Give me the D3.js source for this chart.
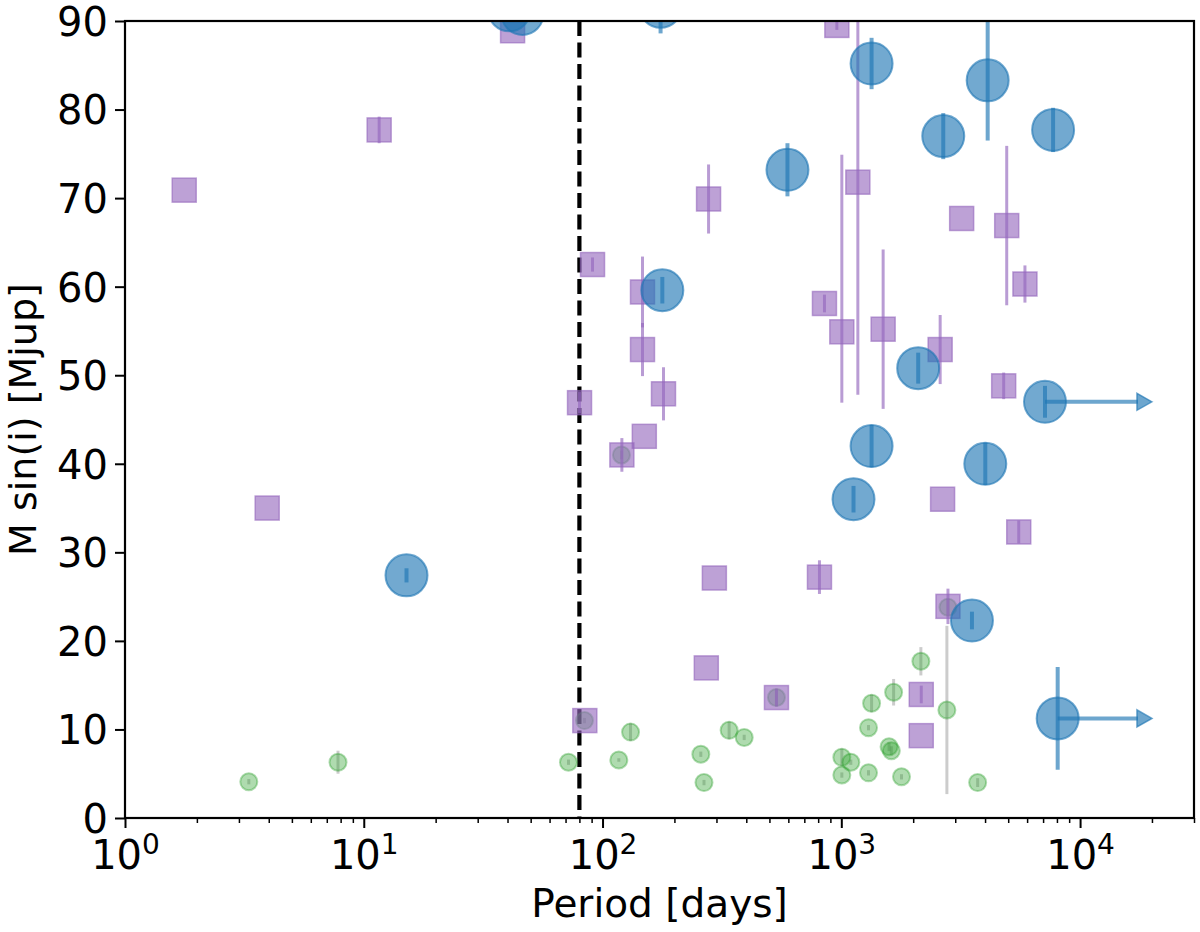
<!DOCTYPE html>
<html>
<head>
<meta charset="utf-8">
<script src="https://cdnjs.cloudflare.com/ajax/libs/d3/7.8.5/d3.min.js"></script>
<style>
  html, body { margin: 0; padding: 0; background: #fff; }
  svg { display: block; font-family: "DejaVu Sans", sans-serif; }
</style>
</head>
<body>
<svg id="chart" width="1200" height="932"></svg>
<script>
// ---------------- data ----------------
// Green (small circles): period [days], M sin i [Mjup], error
const greenPeriod = [3.3, 7.8, 72, 84, 117, 120, 131, 258, 266, 339, 392, 535, 1005, 1005, 1096, 1300, 1300, 1339, 1585, 1620, 1656, 1787, 2154, 2768, 2797, 3724];
const greenMass   = [4.1, 6.3, 6.3, 11.0, 6.55, 41.0, 9.7, 7.2, 4.0, 9.9, 9.1, 13.6, 6.85, 4.85, 6.3, 10.2, 5.1, 12.95, 8.05, 7.6, 14.2, 4.65, 17.7, 12.2, 23.8, 4.0];
const greenErr    = [0.3, 1.3, 0.3, 0.3, 0.2, 0.5, 1.0, 0.3, 0.3, 1.0, 0.3, 1.0, 1.0, 0.3, 0.3, 0.3, 0.3, 1.0, 0.5, 0.5, 1.5, 0.3, 1.6, 9.5, 1.0, 0.5];

// Purple (squares)
const purplePeriod = [1.77, 3.94, 11.6, 42, 80.1, 84.3, 90.8, 120.5, 147, 147, 149.6, 180, 272, 278, 294, 535, 810, 850, 958, 1005, 1173, 1497, 2162, 2162, 2594, 2656, 2797, 3192, 4787, 4929, 5535, 5876];
const purpleMass   = [70.9, 35.0, 77.7, 88.9, 46.9, 11.0, 62.5, 41.0, 59.4, 52.9, 43.1, 47.9, 16.95, 69.9, 27.1, 13.6, 27.2, 58.1, 89.5, 54.9, 71.8, 55.2, 13.95, 9.3, 52.9, 36.0, 23.9, 67.7, 48.8, 66.9, 32.3, 60.3];
const purpleErrLo  = [0, 0, 1.5, 0, 1.2, 0, 0.8, 1.9, 4.0, 3.0, 0, 3.0, 0, 3.9, 0, 1.0, 1.9, 1.0, 0.5, 8.0, 24.0, 9.0, 1.0, 0, 3.9, 0, 2.0, 0, 1.5, 9.0, 1.3, 2.1];
const purpleErrHi  = [0, 0, 1.5, 0, 1.2, 0, 0.8, 1.9, 4.0, 3.0, 0, 3.0, 0, 3.9, 0, 1.0, 1.9, 1.0, 0.5, 20.0, 24.0, 9.0, 1.0, 0, 3.9, 0, 2.0, 0, 1.5, 9.0, 1.3, 2.1];

// Blue (large circles)
const bluePeriod = [15.1, 40.7, 46.2, 175, 178, 595, 1125, 1339, 1339, 2099, 2673, 3525, 4009, 4102, 7130, 7709, 8057];
const blueMass   = [27.4, 91.2, 90.8, 91.6, 59.6, 73.2, 36.0, 85.2, 42.0, 50.8, 77.0, 22.3, 40.0, 83.3, 47.0, 77.7, 11.25];
const blueErr    = [0.8, 0, 0, 3.0, 1.5, 3.0, 1.5, 2.9, 2.4, 1.75, 2.6, 1.0, 2.4, 6.8, 1.8, 2.5, 5.8];
// lower limits on period: arrows from these points to a period of 2e4 days
const arrowFrom  = [7130, 8057];
const arrowMass  = [47.0, 11.25];
const arrowTo    = [20000, 20000];

const dividePeriod = 80;
const yTicks = [0, 10, 20, 30, 40, 50, 60, 70, 80, 90];
const xMajorExp = [0, 1, 2, 3, 4];
const xLabel = "Period [days]";
const yLabel = "M sin(i) [Mjup]";

// ---------------- layout ----------------
const svg = d3.select("#chart");
const L = 125, R = 1194, T = 21, B = 818;
const x = d3.scaleLog().domain([1, 3e4]).range([L, R]);
const y = d3.scaleLinear().domain([0, 90]).range([B, T]);

const C_BLUE = "#1f77b4", C_PURPLE = "#9467bd", C_GREEN = "#2ca02c";

svg.append("defs").append("clipPath").attr("id", "clip")
  .append("rect").attr("x", L).attr("y", T).attr("width", R - L).attr("height", B - T);

const plot = svg.append("g").attr("clip-path", "url(#clip)");

// dashed divider
plot.append("line")
  .attr("x1", x(dividePeriod)).attr("x2", x(dividePeriod))
  .attr("y1", T).attr("y2", B)
  .attr("stroke", "#000").attr("stroke-width", 4.2)
  .attr("stroke-dasharray", "15,6.5");

// ---- green ----
const green = greenPeriod.map((p, i) => ({p, m: greenMass[i], e: greenErr[i]}));
plot.append("g").selectAll("line").data(green).join("line")
  .attr("x1", d => x(d.p)).attr("x2", d => x(d.p))
  .attr("y1", d => y(d.m - d.e)).attr("y2", d => y(d.m + d.e))
  .attr("stroke", "#808080").attr("stroke-opacity", 0.4).attr("stroke-width", 3);
plot.append("g").selectAll("circle").data(green).join("circle")
  .attr("cx", d => x(d.p)).attr("cy", d => y(d.m)).attr("r", 8.5)
  .attr("fill", C_GREEN).attr("fill-opacity", 0.38)
  .attr("stroke", C_GREEN).attr("stroke-opacity", 0.38).attr("stroke-width", 2);

// ---- purple ----
const purple = purplePeriod.map((p, i) => ({p, m: purpleMass[i], lo: purpleErrLo[i], hi: purpleErrHi[i]}));
const S = 24;
plot.append("g").selectAll("line").data(purple.filter(d => d.lo + d.hi > 0)).join("line")
  .attr("x1", d => x(d.p)).attr("x2", d => x(d.p))
  .attr("y1", d => y(d.m - d.lo)).attr("y2", d => y(d.m + d.hi))
  .attr("stroke", C_PURPLE).attr("stroke-opacity", 0.65).attr("stroke-width", 3);
plot.append("g").selectAll("rect").data(purple).join("rect")
  .attr("x", d => x(d.p) - S / 2).attr("y", d => y(d.m) - S / 2)
  .attr("width", S).attr("height", S)
  .attr("fill", C_PURPLE).attr("fill-opacity", 0.62)
  .attr("stroke", C_PURPLE).attr("stroke-opacity", 0.62).attr("stroke-width", 1.5);

// ---- blue ----
const blue = bluePeriod.map((p, i) => ({p, m: blueMass[i], e: blueErr[i]}));
const arrows = arrowFrom.map((p, i) => ({p, m: arrowMass[i], to: arrowTo[i]}));
plot.append("g").selectAll("line").data(arrows).join("line")
  .attr("x1", d => x(d.p)).attr("x2", d => x(d.to) - 14)
  .attr("y1", d => y(d.m)).attr("y2", d => y(d.m))
  .attr("stroke", C_BLUE).attr("stroke-opacity", 0.65).attr("stroke-width", 4);
plot.append("g").selectAll("path").data(arrows).join("path")
  .attr("d", d => {
    const tx = x(d.to), ty = y(d.m);
    return `M${tx},${ty} L${tx - 15},${ty - 8.5} L${tx - 15},${ty + 8.5} Z`;
  })
  .attr("fill", C_BLUE).attr("fill-opacity", 0.65)
  .attr("stroke", C_BLUE).attr("stroke-opacity", 0.65).attr("stroke-width", 1.5);
plot.append("g").selectAll("line").data(blue.filter(d => d.e > 0)).join("line")
  .attr("x1", d => x(d.p)).attr("x2", d => x(d.p))
  .attr("y1", d => y(d.m - d.e)).attr("y2", d => y(d.m + d.e))
  .attr("stroke", C_BLUE).attr("stroke-opacity", 0.65).attr("stroke-width", 4);
plot.append("g").selectAll("circle").data(blue).join("circle")
  .attr("cx", d => x(d.p)).attr("cy", d => y(d.m)).attr("r", 21)
  .attr("fill", C_BLUE).attr("fill-opacity", 0.63)
  .attr("stroke", C_BLUE).attr("stroke-opacity", 0.63).attr("stroke-width", 2);

// ---------------- axes ----------------
const FS = 40;
// y axis
const yAxis = svg.append("g").attr("transform", `translate(${L},0)`)
  .call(d3.axisLeft(y).tickValues(yTicks).tickSize(10).tickPadding(7).tickFormat(d3.format("d")));
yAxis.select(".domain").remove();
yAxis.selectAll(".tick line").attr("stroke", "#000").attr("stroke-width", 2);
yAxis.selectAll(".tick text").attr("font-size", FS).attr("fill", "#000")
  .attr("font-family", "DejaVu Sans").attr("dy", "0.36em");

// x axis minor ticks
const minor = [];
for (let e = 0; e <= 4; e++) for (let k = 2; k <= 9; k++) { const v = k * Math.pow(10, e); if (v <= 3e4) minor.push(v); }
const xMinor = svg.append("g").attr("transform", `translate(0,${B})`)
  .call(d3.axisBottom(x).tickValues(minor).tickSize(5).tickFormat(""));
xMinor.select(".domain").remove();
xMinor.selectAll(".tick line").attr("stroke", "#000").attr("stroke-width", 1.5);

// x axis major ticks
const xMajor = svg.append("g").attr("transform", `translate(0,${B})`)
  .call(d3.axisBottom(x).tickValues(xMajorExp.map(e => Math.pow(10, e))).tickSize(10).tickFormat(""));
xMajor.select(".domain").remove();
xMajor.selectAll(".tick line").attr("stroke", "#000").attr("stroke-width", 2);
xMajor.selectAll(".tick").each(function(d) {
  const t = d3.select(this).append("text")
    .attr("y", 51).attr("text-anchor", "middle").attr("fill", "#000")
    .attr("font-size", FS).attr("font-family", "DejaVu Sans");
  t.append("tspan").text("10");
  t.append("tspan").attr("font-size", 28).attr("dy", -15).text(String(Math.round(Math.log10(d))));
});

// frame
svg.append("rect").attr("x", L).attr("y", T).attr("width", R - L).attr("height", B - T)
  .attr("fill", "none").attr("stroke", "#000").attr("stroke-width", 2.2);

// labels
svg.append("text").attr("x", (L + R) / 2).attr("y", 917).attr("text-anchor", "middle")
  .attr("font-size", FS - 1).attr("font-family", "DejaVu Sans").attr("fill", "#000").text(xLabel);
svg.append("text").attr("transform", `translate(36,${(T + B) / 2}) rotate(-90)`)
  .attr("text-anchor", "middle")
  .attr("font-size", 38).attr("font-family", "DejaVu Sans").attr("fill", "#000").text(yLabel);
</script>
</body>
</html>
